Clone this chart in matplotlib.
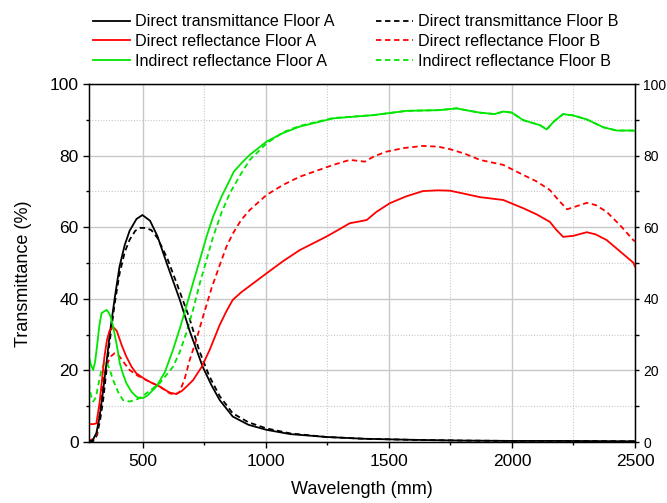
import matplotlib
matplotlib.use("Agg")
import matplotlib.pyplot as plt
from matplotlib.ticker import MultipleLocator

plt.rcParams['font.family'] = ['Liberation Sans', 'DejaVu Sans']

# ---------------- data ----------------
trans_a_x = [282, 297, 312, 325, 338, 352, 366, 386, 406, 427, 447, 475, 499, 530, 560, 600, 651, 692, 744, 780,
             813, 866, 930, 1003, 1100, 1247, 1400, 1600, 1800, 2000, 2200, 2500]
trans_a_y = [0, 0.5, 2.5, 7, 13.6, 21.5, 30, 40, 49, 55, 59, 62.3, 63.4, 61.8, 57.5, 49.5, 39.7, 30.8, 21, 15.8,
             11.7, 7.1, 4.8, 3.4, 2.2, 1.4, 0.9, 0.6, 0.4, 0.3, 0.3, 0.2]

trans_b_x = [282, 300, 315, 328, 340, 353, 366, 386, 406, 427, 447, 470, 490, 510, 535, 560, 600, 640, 690, 730,
             770, 813, 866, 930, 1003, 1100, 1247, 1400, 1600, 1800, 2000, 2200, 2500]
trans_b_y = [0, 0.3, 2, 6.5, 12, 20, 28, 38.5, 47, 53, 56.5, 59, 59.8, 59.8, 59.2, 57, 51.3, 44, 34.6, 25.5,
             18.5, 12.8, 8, 5.5, 3.8, 2.4, 1.4, 0.9, 0.6, 0.4, 0.3, 0.3, 0.2]

dref_a_x = [282, 300, 312, 325, 335, 345, 355, 365, 379, 395, 415, 434, 455, 474, 495, 515, 540, 569, 590, 610,
            637, 660, 680, 705, 740, 772, 813, 840, 866, 900, 935, 1003, 1070, 1138, 1247, 1301, 1341, 1380, 1410,
            1450, 1504, 1570, 1639, 1700, 1748, 1810, 1870, 1965, 2046, 2100, 2154, 2180, 2208, 2250, 2304, 2340,
            2385, 2440, 2493, 2500]
dref_a_y = [5, 5, 5.2, 11, 17.5, 24, 28.5, 31, 32.2, 31, 27, 23.8, 21, 19.2, 18.2, 17.3, 16.4, 15.5, 14.6, 13.8,
            13.4, 14.3, 15.6, 17.3, 21, 25.7, 32.7, 36.5, 39.7, 41.8, 43.6, 47.1, 50.5, 53.6, 57.4, 59.5, 61.1,
            61.6, 62.0, 64.3, 66.7, 68.6, 70.1, 70.3, 70.2, 69.3, 68.4, 67.6, 65.3, 63.6, 61.5, 59.3, 57.3, 57.6,
            58.6, 58, 56.4, 53.2, 50.1, 49]

dref_b_x = [282, 300, 312, 325, 339, 350, 360, 372, 386, 398, 410, 428, 447, 480, 515, 569, 610, 630, 650, 670,
            691, 720, 745, 780, 813, 840, 867, 900, 935, 1003, 1070, 1138, 1274, 1341, 1380, 1402, 1440, 1490,
            1560, 1639, 1700, 1748, 1810, 1870, 1965, 2046, 2100, 2154, 2190, 2224, 2260, 2304, 2340, 2385, 2440,
            2493, 2500]
dref_b_y = [0.5, 0.8, 1.5, 8, 17, 20.5, 22.5, 24, 24.8, 24.6, 23.5, 21.8, 20.1, 18.5, 17.3, 15.5, 13.6, 13.2,
            14, 17.5, 22.9, 29, 35, 43, 49.4, 54.5, 58.3, 62, 64.8, 69, 71.8, 74.1, 77.4, 78.8, 78.5, 78.3, 79.8,
            81.1, 82.1, 82.7, 82.5, 81.8, 80.5, 78.8, 77.4, 74.6, 72.8, 70.4, 67.5, 65, 65.8, 66.8, 66.2, 64.3,
            60.5, 56.4, 56]

iref_a_x = [282, 290, 299, 307, 315, 324, 333, 344, 354, 363, 370, 380, 395, 407, 420, 434, 455, 474, 488, 505,
            520, 556, 590, 623, 650, 677, 705, 732, 760, 786, 820, 854, 870, 900, 935, 1003, 1070, 1138, 1274,
            1436, 1572, 1707, 1775, 1820, 1870, 1930, 1965, 2000, 2046, 2114, 2141, 2170, 2208, 2250, 2304, 2372,
            2426, 2493, 2500]
iref_a_y = [23.8, 21.5, 20.1, 22.5, 27, 32.5, 36, 36.5, 36.9, 36, 35, 32.2, 27, 22, 19, 16.4, 14, 12.7, 12.2, 12.4,
            13, 15.5, 19.5, 25.7, 31.5, 37.8, 44.5, 50.8, 57.5, 62.9, 68.5, 73.2, 75.5, 77.8, 80.2, 83.9, 86.3,
            88.1, 90.4, 91.3, 92.5, 92.7, 93.2, 92.6, 92, 91.6, 92.3, 92.0, 89.9, 88.5, 87.3, 89.5, 91.6, 91.2,
            90.1, 87.9, 87, 87, 86.8]

iref_b_x = [282, 290, 299, 310, 320, 332, 345, 355, 365, 380, 400, 420, 447, 480, 515, 569, 623, 650, 677, 705,
            732, 760, 786, 820, 854, 900, 935, 1003, 1070, 1138, 1274, 1436, 1572, 1707, 1775, 1820, 1870, 1930,
            1965, 2000, 2046, 2114, 2141, 2170, 2208, 2250, 2304, 2372, 2426, 2493, 2500]
iref_b_y = [16.4, 13, 11.3, 12.5, 16, 20, 22.4, 22, 20.5, 17.3, 14, 11.7, 11.3, 12, 13.6, 16.4, 21, 25, 30.4, 37,
            44.3, 51, 57.3, 64, 69.5, 75, 78.8, 83.4, 86.5, 88.3, 90.5, 91.3, 92.5, 92.7, 93.2, 92.6, 92, 91.6,
            92.3, 92.0, 89.9, 88.5, 87.3, 89.5, 91.6, 91.2, 90.1, 87.9, 87, 87, 86.8]

labels_a = ["Direct transmittance Floor A", "Direct reflectance Floor A", "Indirect reflectance Floor A"]
labels_b = ["Direct transmittance Floor B", "Direct reflectance Floor B", "Indirect reflectance Floor B"]
x_ticks = [500, 1000, 1500, 2000, 2500]
y_ticks = [0, 20, 40, 60, 80, 100]

# ---------------- figure ----------------
BLACK, RED, GREEN = "#000000", "#ff0000", "#00e600"
W, H = 667, 503
fig = plt.figure(figsize=(W / 100, H / 100), dpi=100)
L, R, B, T = 89, 635, 442, 84
ax = fig.add_axes([L / W, 1 - B / H, (R - L) / W, (B - T) / H])

lw = 1.3
dash = (0, (3, 2))
hA = []
hB = []
for (xa, ya, xb, yb, c) in [(trans_a_x, trans_a_y, trans_b_x, trans_b_y, BLACK),
                            (dref_a_x, dref_a_y, dref_b_x, dref_b_y, RED),
                            (iref_a_x, iref_a_y, iref_b_x, iref_b_y, GREEN)]:
    pb, = ax.plot(xb, yb, color=c, lw=lw, linestyle=dash, zorder=3)
    pa, = ax.plot(xa, ya, color=c, lw=lw, linestyle='-', zorder=4)
    hA.append(pa)
    hB.append(pb)

ax.set_xlim(282, 2500)
ax.set_ylim(0, 100)
ax.set_xticks(x_ticks)
ax.set_yticks(y_ticks)
ax.xaxis.set_minor_locator(MultipleLocator(250))
ax.yaxis.set_minor_locator(MultipleLocator(10))
ax.grid(which='major', color='#c8c8c8', lw=1.0, ls='-', zorder=0)
ax.grid(which='minor', color='#c8c8c8', lw=0.8, ls=(0, (1, 1.5)), zorder=0)
ax.set_axisbelow(True)
ax.tick_params(axis='both', which='major', direction='out', length=4.5, width=1, labelsize=12.5, pad=3,
               top=False, right=False)
ax.tick_params(axis='x', which='major', pad=4.5)
ax.tick_params(axis='both', which='minor', direction='out', length=2.5, width=1, top=False, right=False)
for s in ax.spines.values():
    s.set_linewidth(1.0)

ax2 = ax.twinx()
ax2.set_ylim(0, 100)
ax2.set_yticks(y_ticks)
ax2.yaxis.set_minor_locator(MultipleLocator(10))
ax2.tick_params(axis='y', which='major', direction='out', length=3, width=1, labelsize=10, pad=3)
ax2.tick_params(axis='y', which='minor', direction='out', length=3, width=1)

fig.text(362 / W, 1 - 490 / H, "Wavelength (mm)", ha='center', va='center', fontsize=13)
fig.text(24 / W, 1 - 274 / H, "Transmittance (%)", ha='center', va='center', rotation=90, fontsize=13)

leg_kw = dict(loc='upper left', frameon=False, fontsize=11.6, borderpad=0, borderaxespad=0,
              handlelength=2.3, handletextpad=0.3, labelspacing=0.28)
fig.legend(hA, labels_a, bbox_to_anchor=(93 / W, 1 - 14.5 / H), **leg_kw)
fig.legend(hB, labels_b, bbox_to_anchor=(376 / W, 1 - 14.5 / H), **leg_kw)

fig.savefig("out.png", dpi=100)
